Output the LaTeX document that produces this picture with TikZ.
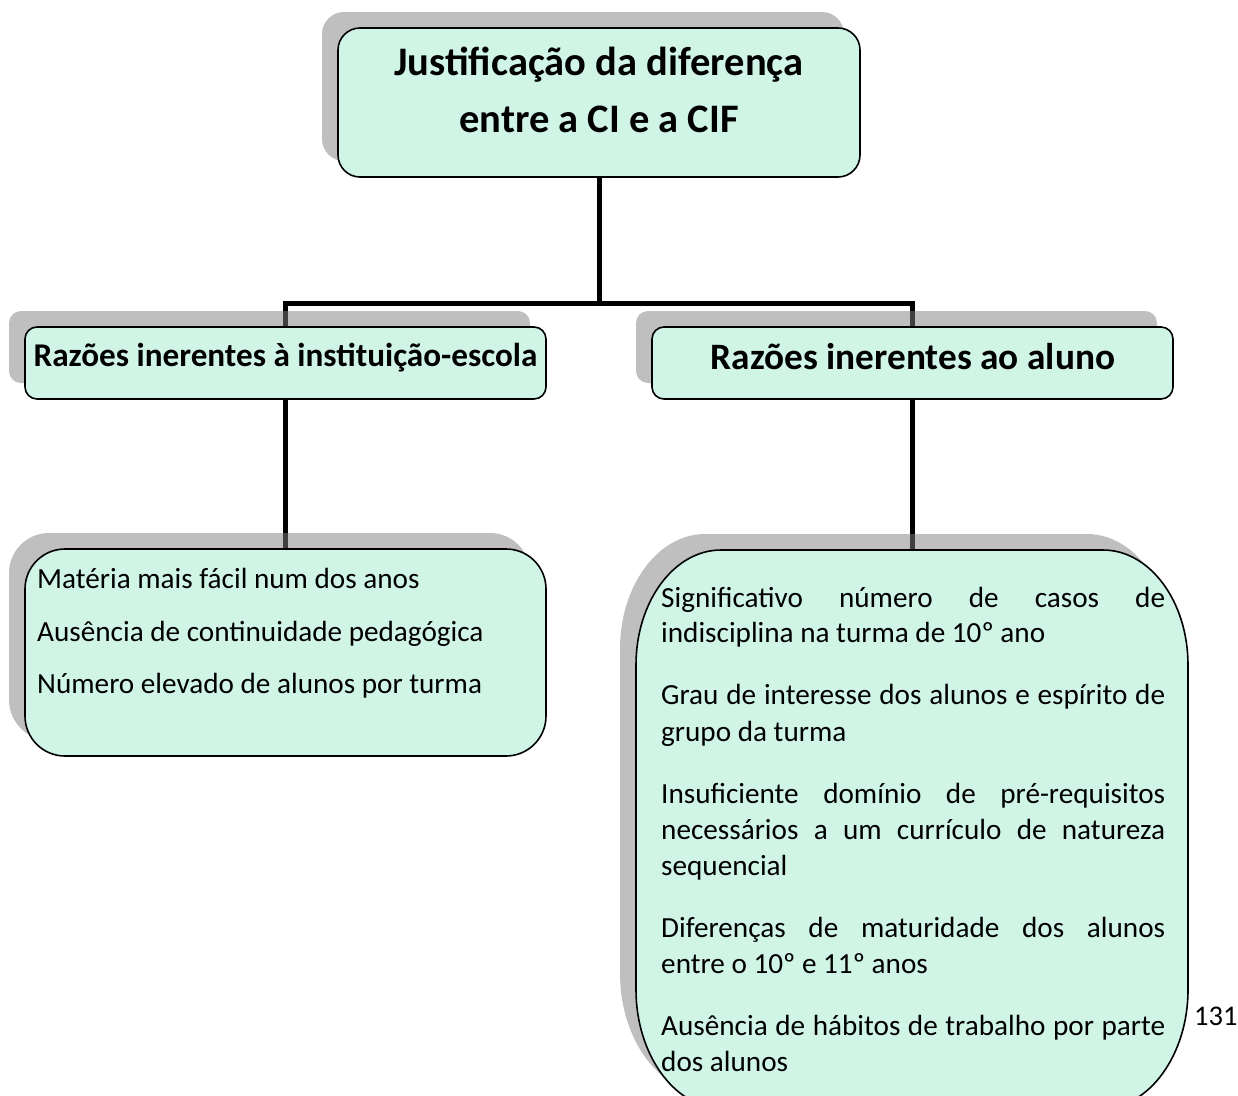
\documentclass[tikz,border=0pt]{standalone}
\usepackage{fontspec}
\setmainfont{Carlito}
\usetikzlibrary{shadows}
\pgfdeclarelayer{bg}
\pgfsetlayers{bg,main}
\definecolor{mint}{RGB}{208,245,230}
\tikzset{
  box/.style={draw=black, line width=1.6pt, fill=mint, inner sep=0pt,
    general shadow={fill=black!50, fill opacity=0.5, shadow xshift=-16pt, shadow yshift=16pt}},
  shadowfill/.style={fill=black!50, fill opacity=0.5},
  link/.style={line width=5pt, draw=black, line join=miter},
  reg/.style={inner sep=0pt, font=\fontsize{29.2}{35.6}\selectfont},
  boldt/.style={inner sep=0pt, font=\bfseries\fontsize{40.5}{46}\selectfont},
  boldr/.style={inner sep=0pt, font=\bfseries\fontsize{37.3}{43}\selectfont},
  boldm/.style={inner sep=0pt, font=\bfseries\fontsize{33.2}{39}\selectfont},
}
\newcommand{\bigshape}{(721,550) -- (1103,550) .. controls (1149.9,550) and (1188,601.5) .. (1188,665) -- (1188,990) .. controls (1188,1053.5) and (1149.9,1108) .. (1103,1108) -- (721,1108) .. controls (674.1,1108) and (636,1053.5) .. (636,990) -- (636,665) .. controls (636,601.5) and (674.1,550) .. cycle}
\begin{document}
\begin{tikzpicture}[x=1pt,y=-1pt]
\useasboundingbox (0,0) rectangle (1238,1095);
\clip (0,0) rectangle (1238,1095);
% boxes
\node[box, rounded corners=22pt, minimum width=522pt, minimum height=149pt] (top) at (599,102.5) {};
\node[box, rounded corners=12pt, minimum width=521pt, minimum height=72pt] (inst) at (285.5,363) {};
\node[box, rounded corners=12pt, minimum width=521pt, minimum height=72pt] (aluno) at (912.5,363) {};
\node[box, rounded corners=40pt, minimum width=521pt, minimum height=207pt] (instlist) at (285.5,652.5) {};
\begin{scope}[shift={(-16,-16)}]
  \path[shadowfill] \bigshape;
\end{scope}
\path[draw=black, line width=1.6pt, fill=mint] \bigshape;
\coordinate (alunolist) at (912.5,550);
\coordinate (hub) at (599,303);
% connectors
\begin{pgfonlayer}{bg}
  \draw[link] (top.south) -- (hub);
  \draw[link] (inst.north) |- (hub) -| (aluno.north);
  \draw[link] (inst.south) -- (instlist.north);
  \draw[link] (aluno.south) -- (alunolist);
\end{pgfonlayer}
% texts
\node[boldt, anchor=base] (t1) at (599,75) {Justificação da diferença};
\node[boldt, anchor=base] (t2) at (599,132) {entre a CI e a CIF};
\node[boldm, anchor=base] (t3) at (285.5,366) {Razões inerentes à instituição-escola};
\node[boldr, anchor=base] (t4) at (913,369) {Razões inerentes ao aluno};
\node[reg, anchor=base west] (l1) at (37,588) {Matéria mais fácil num dos anos};
\node[reg, anchor=base west] (l2) at (37,641) {Ausência de continuidade pedagógica};
\node[reg, anchor=base west] (l3) at (37,693) {Número elevado de alunos por turma};
\node[reg, anchor=base west] (r1) at (661,607) {\makebox[504pt][s]{Significativo número de casos de}};
\node[reg, anchor=base west] (r2) at (661,642) {indisciplina na turma de 10º ano};
\node[reg, anchor=base west] (r3) at (661,704) {\makebox[504pt][s]{Grau de interesse dos alunos e espírito de}};
\node[reg, anchor=base west] (r4) at (661,741) {grupo da turma};
\node[reg, anchor=base west] (r5) at (661,803) {\makebox[504pt][s]{Insuficiente domínio de pré-requisitos}};
\node[reg, anchor=base west] (r6) at (661,839) {\makebox[504pt][s]{necessários a um currículo de natureza}};
\node[reg, anchor=base west] (r7) at (661,875) {sequencial};
\node[reg, anchor=base west] (r8) at (661,937) {\makebox[504pt][s]{Diferenças de maturidade dos alunos}};
\node[reg, anchor=base west] (r9) at (661,973) {entre o 10º e 11º anos};
\node[reg, anchor=base west] (r10) at (661,1035) {\makebox[504pt][s]{Ausência de hábitos de trabalho por parte}};
\node[reg, anchor=base west] (r11) at (661,1071) {dos alunos};
\node[reg, anchor=base west, font=\fontsize{28.5}{34}\selectfont] (pg) at (1194,1025) {131};
\end{tikzpicture}
\end{document}
